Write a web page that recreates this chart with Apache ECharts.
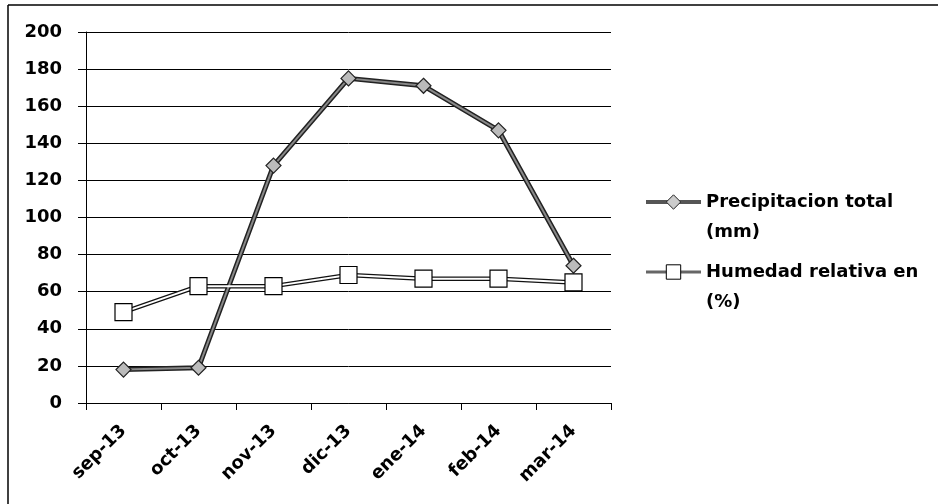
<!DOCTYPE html>
<html>
<head>
<meta charset="utf-8">
<script src="https://cdn.jsdelivr.net/npm/echarts@6/dist/echarts.min.js"></script>
<style>
html,body{margin:0;padding:0;background:#fff;}
#chart{width:938px;height:504px;}
</style>
</head>
<body>
<div id="chart"></div>
<script>
const categories = ['sep-13','oct-13','nov-13','dic-13','ene-14','feb-14','mar-14'];
const precipitacion = [18, 19, 128, 175, 171, 147, 74];
const humedad = [49, 63, 63, 69, 67, 67, 65];
const yTicks = [0, 20, 40, 60, 80, 100, 120, 140, 160, 180, 200];
const seriesNames = ['Precipitacion total (mm)', 'Humedad relativa en (%)'];
const legendLines = {
  'Precipitacion total (mm)': ['Precipitacion total', '(mm)'],
  'Humedad relativa en (%)': ['Humedad relativa en', '(%)']
};

const FONT = '"DejaVu Sans"';
const chart = echarts.init(document.getElementById('chart'));
chart.setOption({
  backgroundColor: '#fff',
  animation: false,
  grid: {left: 86, right: 327, top: 32, bottom: 101},
  xAxis: {
    type: 'category',
    data: categories,
    boundaryGap: true,
    axisLine: {lineStyle: {color: '#000', width: 1}},
    axisTick: {show: true, length: 7, inside: false, lineStyle: {color: '#000'}},
    axisLabel: {rotate: 45, margin: 25, color: '#000', fontFamily: FONT, fontWeight: 'bold', fontSize: 18}
  },
  yAxis: {
    type: 'value',
    min: yTicks[0],
    max: yTicks[yTicks.length - 1],
    interval: yTicks[1] - yTicks[0],
    axisLine: {show: true, lineStyle: {color: '#000', width: 1}},
    axisTick: {show: true, length: 8, lineStyle: {color: '#000'}},
    splitLine: {show: true, lineStyle: {color: '#000', width: 1}},
    axisLabel: {margin: 24, color: '#000', fontFamily: FONT, fontWeight: 'bold', fontSize: 18}
  },
  legend: {
    orient: 'vertical',
    left: 639,
    top: 158,
    itemWidth: 55,
    itemHeight: 18,
    itemGap: -8,
    data: [
      {name: seriesNames[0], itemStyle: {color: '#ccc', borderColor: '#222', borderWidth: 1}, lineStyle: {color: '#555', width: 4}},
      {name: seriesNames[1], itemStyle: {color: '#fff', borderColor: '#000', borderWidth: 1}, lineStyle: {color: '#666', width: 3}}
    ],
    formatter: function (n) {
      const l = legendLines[n];
      return '{b|}\n{a|' + l[0] + '}\n{a|' + l[1] + '}';
    },
    textStyle: {
      color: '#000', fontFamily: FONT, fontWeight: 'bold', fontSize: 18,
      rich: {
        a: {color: '#000', fontFamily: FONT, fontWeight: 'bold', fontSize: 18, lineHeight: 30},
        b: {fontSize: 18, lineHeight: 30}
      }
    }
  },
  series: [
    {
      name: '_prec_outline', type: 'line', data: precipitacion, symbol: 'none', silent: true,
      lineStyle: {color: '#222', width: 5}, z: 2
    },
    {
      name: seriesNames[0], type: 'line', data: precipitacion,
      symbol: 'diamond', symbolSize: 15,
      itemStyle: {color: '#bbb', borderColor: '#222', borderWidth: 1.2},
      lineStyle: {color: '#888', width: 2}, z: 3
    },
    {
      name: '_hum_outline', type: 'line', data: humedad, symbol: 'none', silent: true,
      lineStyle: {color: '#111', width: 4.5}, z: 2
    },
    {
      name: seriesNames[1], type: 'line', data: humedad,
      symbol: 'rect', symbolSize: 17,
      itemStyle: {color: '#fff', borderColor: '#000', borderWidth: 1.2},
      lineStyle: {color: '#fff', width: 2}, z: 3
    }
  ],
  graphic: [
    {type: 'line', shape: {x1: 8, y1: 5, x2: 938, y2: 5}, style: {stroke: '#000', lineWidth: 1.5}},
    {type: 'line', shape: {x1: 8, y1: 5, x2: 8, y2: 504}, style: {stroke: '#000', lineWidth: 1.5}}
  ]
});
</script>
</body>
</html>
